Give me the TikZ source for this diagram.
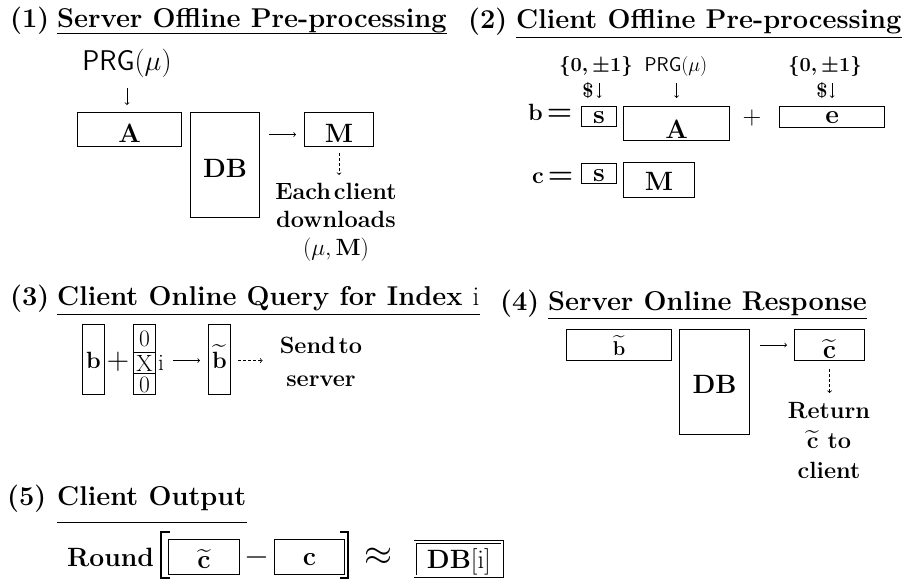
\RequirePackage{fix-cm}
\documentclass[tikz,border=0pt]{standalone}
\usepackage{amsmath}
\usetikzlibrary{calc}
\newcommand\szT{\fontsize{27.2}{31}\selectfont}
\newcommand\szB{\fontsize{26.5}{31}\selectfont}
\newcommand\szL{\fontsize{23.5}{28}\selectfont}
\newcommand\szS{\fontsize{20}{24}\selectfont}
\begin{document}
\begin{tikzpicture}[x=1pt,y=-1pt,
  bx/.style={draw, line width=1.1pt, inner sep=0pt, anchor=north west, text depth=0pt},
  txt/.style={inner sep=0pt},
  ttl/.style={inner sep=0pt, anchor=base west, font=\szT\bfseries},
  lbl/.style={inner sep=0pt, align=center},
  arr/.style={->, line width=0.8pt},
  darr/.style={->, line width=0.8pt, dash pattern=on 3pt off 2pt},
  uline/.style={line width=0.9pt},
  brk/.style={line width=1.1pt}]
\fill[white] (0,0) rectangle (904,587);
\useasboundingbox (0,0) rectangle (904,587);

% ---------- (1) ----------
\node[ttl] (n1) at (10,27) {(1)};
\node[ttl] (t1) at (57,27) {Server Offline Pre-processing};
\draw[uline] ([yshift=-6pt]t1.base west) -- ([yshift=-6pt]t1.base east);
\node[txt, anchor=base, font=\fontsize{28.5}{32}\selectfont] (prg1) at (127,70) {$\mathsf{PRG}(\mu)$};
\node[bx, minimum width=104pt, minimum height=34pt, text height=26pt, font=\szB] (A1) at (77,112) {$\mathbf{A}$};
\node[bx, minimum width=69pt, minimum height=105pt, text height=25pt, font=\szB] (DB1) at (190,112) {$\mathbf{DB}$};
\node[bx, minimum width=69pt, minimum height=34pt, text height=26pt, font=\szB] (M1) at (304,112) {$\mathbf{M}$};
\draw[arr, shorten <=11pt, shorten >=7pt] (prg1.south) -- (prg1.south |- A1.north);
\coordinate (a1) at ([yshift=-5pt]M1.west);
\draw[arr, shorten <=9pt, shorten >=8pt] (a1 -| DB1.east) -- (a1);
\node[lbl, anchor=north, font=\fontsize{23.5}{28}\selectfont\bfseries] (lab1) at (336,183) {Each\hspace{0.12em}client\\downloads\\$(\mu,\mathbf{M})$};
\draw[darr, shorten <=6pt, shorten >=8pt] (M1.south) -- (M1.south |- lab1.north);

% ---------- (2) ----------
\node[ttl] (n2) at (468,28) {(2)};
\node[ttl] (t2) at (516,28) {Client Offline Pre-processing};
\draw[uline] ([yshift=-9pt]t2.base west) -- ([yshift=-9pt]t2.base east);
\node[txt, anchor=base, font=\szS] (z1) at (596,71) {$\boldsymbol{\{0,\pm1\}}$};
\node[txt, anchor=base, font=\szS] (prg2) at (676,71) {$\mathsf{PRG}(\mu)$};
\node[txt, anchor=base, font=\szS] (z2) at (825,71) {$\boldsymbol{\{0,\pm1\}}$};
\node[txt, font=\szS\bfseries] (d1) at (588,91) {\$};
\node[txt, font=\szS\bfseries] (d2) at (822,91) {\$};
\node[txt, anchor=base west, font=\fontsize{23.5}{27}\selectfont\bfseries] (beq) at (528,120) {b\hspace{4pt}{\fontsize{29}{30}\selectfont =}};
\node[bx, minimum width=35pt, minimum height=20pt, text height=14pt, font=\szB] (s2a) at (581,106) {$\mathbf{s}$};
\node[bx, minimum width=106pt, minimum height=34pt, text height=30pt, font=\szB] (A2) at (623,106) {$\mathbf{A}$};
\node[txt, font=\fontsize{26}{28}\selectfont] (pl2) at (752,118) {$+$};
\node[bx, minimum width=105pt, minimum height=21pt, text height=13pt, font=\szB] (e2) at (779,106) {$\mathbf{e}$};
\node[txt, anchor=base west, font=\fontsize{23.5}{27}\selectfont\bfseries] (ceq) at (532,183) {c\hspace{4pt}{\fontsize{29}{30}\selectfont =}};
\node[bx, minimum width=35pt, minimum height=20pt, text height=16pt, font=\szB] (s2b) at (581,163) {$\mathbf{s}$};
\node[bx, minimum width=71pt, minimum height=35pt, text height=21pt, font=\szB] (M2) at (623,162) {$\mathbf{M}$};
\draw[arr, shorten <=7pt, shorten >=8pt] (z1.south -| s2a.north) -- (s2a.north);
\draw[arr, shorten <=7pt, shorten >=8pt] (prg2.south -| A2.north) -- (A2.north);
\draw[arr, shorten <=7pt, shorten >=8pt] (z2.south -| e2.north) -- (e2.north);

% ---------- (3) ----------
\node[ttl] (n3) at (10,305) {(3)};
\node[ttl] (t3) at (57,305) {Client Online Query for Index {\mdseries i}};
\draw[uline] ([yshift=-9pt]t3.base west) -- ([yshift=-9pt]t3.base east);
\node[bx, minimum width=22pt, minimum height=70pt, text height=18pt, font=\szL] (b3) at (82,324) {$\mathbf{b}$};
\node[txt, font=\fontsize{31}{34}\selectfont] (pl3) at (118,362) {$+$};
\node[bx, minimum width=22pt, minimum height=28pt, text height=16pt, font=\szL] (v1) at (133,324) {0};
\node[bx, minimum width=22pt, minimum height=21pt, text height=17pt, font=\szL] (v2) at (133,352) {X};
\node[bx, minimum width=22pt, minimum height=21pt, text height=17pt, font=\szL] (v3) at (133,373) {0};
\node[txt, anchor=base west, font=\szL] (i3) at (158,370) {i};
\coordinate (a3) at ([yshift=2.5pt]v2.east);
\node[bx, minimum width=22pt, minimum height=70pt, text height=18pt, font=\szL] (bt3) at (208,324) {$\widetilde{\mathbf{b}}$};
\draw[arr, shorten <=17pt, shorten >=8pt] (a3) -- (a3 -| bt3.west);
\node[lbl, anchor=north, font=\fontsize{23.5}{33}\selectfont\bfseries] (send) at (321,337) {Send\hspace{0.12em}to\\server};
\draw[darr, shorten <=7pt, shorten >=17pt] (a3 -| bt3.east) -- (a3 -| send.west);

% ---------- (4) ----------
\node[ttl] (n4) at (500,310) {(4)};
\node[ttl] (t4) at (548,310) {Server Online Response};
\draw[uline] ([yshift=-8pt]t4.base west) -- ([yshift=-8pt]t4.base east);
\node[bx, minimum width=105pt, minimum height=31pt, text height=21pt, font=\szS] (bt4) at (566,329) {$\widetilde{\mathbf{b}}$};
\node[bx, minimum width=70pt, minimum height=105pt, text height=23pt, font=\szB] (DB4) at (679,329) {$\mathbf{DB}$};
\node[bx, minimum width=70pt, minimum height=31pt, text height=27pt, font=\szB] (ct4) at (794,329) {$\widetilde{\mathbf{c}}$};
\draw[arr, shorten <=10pt, shorten >=7pt] (ct4.west -| DB4.east) -- (ct4.west);
\node[lbl, anchor=north, font=\fontsize{23.5}{30}\selectfont\bfseries] (ret) at (829,402) {Return\\$\widetilde{\mathbf{c}}$ to\\client};
\draw[darr, shorten <=8pt, shorten >=9pt] (ct4.south) -- (ct4.south |- ret.north);

% ---------- (5) ----------
\node[ttl] (n5) at (7,505) {(5)};
\node[ttl] (t5) at (57,505) {Client Output};
\draw[uline] ([yshift=-17pt]t5.base west) -- ([yshift=-17pt]t5.base east);
\node[txt, anchor=base west, font=\szB\bfseries] (rnd) at (67,566) {Round};
\node[bx, minimum width=71pt, minimum height=35pt, text height=23pt, font=\szB] (c5a) at (168,539) {$\widetilde{\mathbf{c}}$};
\node[txt, font=\fontsize{32}{34}\selectfont] (mn5) at (257,557) {$-$};
\node[bx, minimum width=70pt, minimum height=35pt, text height=17pt, font=\szB] (c5b) at (274,539) {$\mathbf{c}$};
\draw[brk] (170,532) -- (161,532) -- (161,578) -- (170,578);
\draw[brk] (340,532) -- (348,532) -- (348,578) -- (340,578);
\node[txt, font=\fontsize{36}{40}\selectfont] (apx) at (378,557) {$\approx$};
\node[bx, double, double distance=2pt, line width=0.7pt, minimum width=87pt, minimum height=34.5pt, text height=18.5pt, font=\szB] (db5) at (415,541.5) {$\mathbf{DB}[\mathrm{i}]$};
\end{tikzpicture}
\end{document}
